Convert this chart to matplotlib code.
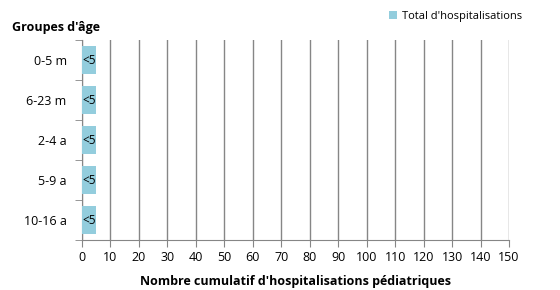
import matplotlib
matplotlib.use('Agg')
import matplotlib.pyplot as plt
from matplotlib.ticker import MultipleLocator, FixedLocator

# data
groupes = ['0-5 m', '6-23 m', '2-4 a', '5-9 a', '10-16 a']
valeurs = [5, 5, 5, 5, 5]
etiquettes = ['<5', '<5', '<5', '<5', '<5']

plt.rcParams['font.family'] = ['Open Sans', 'DejaVu Sans']
gris = '#868686'
bleu = '#93CDDD'

fig = plt.figure(figsize=(5.6, 2.9), dpi=100)
ax = fig.add_axes([0.1464, 0.1724, 0.7625, 0.6896])

y = list(range(len(groupes)))[::-1]
ax.barh(y, valeurs, height=0.7, color=bleu, label="Total d'hospitalisations", zorder=3)
for yi, v, t in zip(y, valeurs, etiquettes):
    ax.text(0.3, yi, t, va='center', ha='left', fontsize=8.5, zorder=4)

ax.set_xlim(0, 150)
ax.set_ylim(-0.5, len(groupes) - 0.5)
ax.xaxis.set_major_locator(MultipleLocator(10))
ax.set_yticks(y)
ax.set_yticklabels(groupes, fontsize=9)
ax.yaxis.set_minor_locator(FixedLocator([i - 0.5 for i in range(len(groupes) + 1)]))
ax.tick_params(axis='y', which='major', length=0, pad=11)
ax.tick_params(axis='y', which='minor', length=5, color=gris, direction='out')
ax.tick_params(axis='x', length=5, color=gris, direction='out', labelsize=9, pad=3)
ax.grid(axis='x', color=gris, linewidth=1, zorder=0)
for s in ['top', 'right']:
    ax.spines[s].set_visible(False)
for s in ['left', 'bottom']:
    ax.spines[s].set_color(gris)
ax.set_xlabel("Nombre cumulatif d'hospitalisations pédiatriques", fontsize=9,
              fontweight='bold', labelpad=8)
fig.text(0.021, 0.905, "Groupes d'âge", fontsize=9, fontweight='bold', va='center')
ax.legend(loc='center left', bbox_to_anchor=(389 / 560, 1 - 16 / 290),
          bbox_transform=fig.transFigure, frameon=False, fontsize=8,
          handlelength=0.7, handleheight=0.7, handletextpad=0.5,
          borderpad=0, borderaxespad=0)

fig.savefig('out.png', dpi=100)
